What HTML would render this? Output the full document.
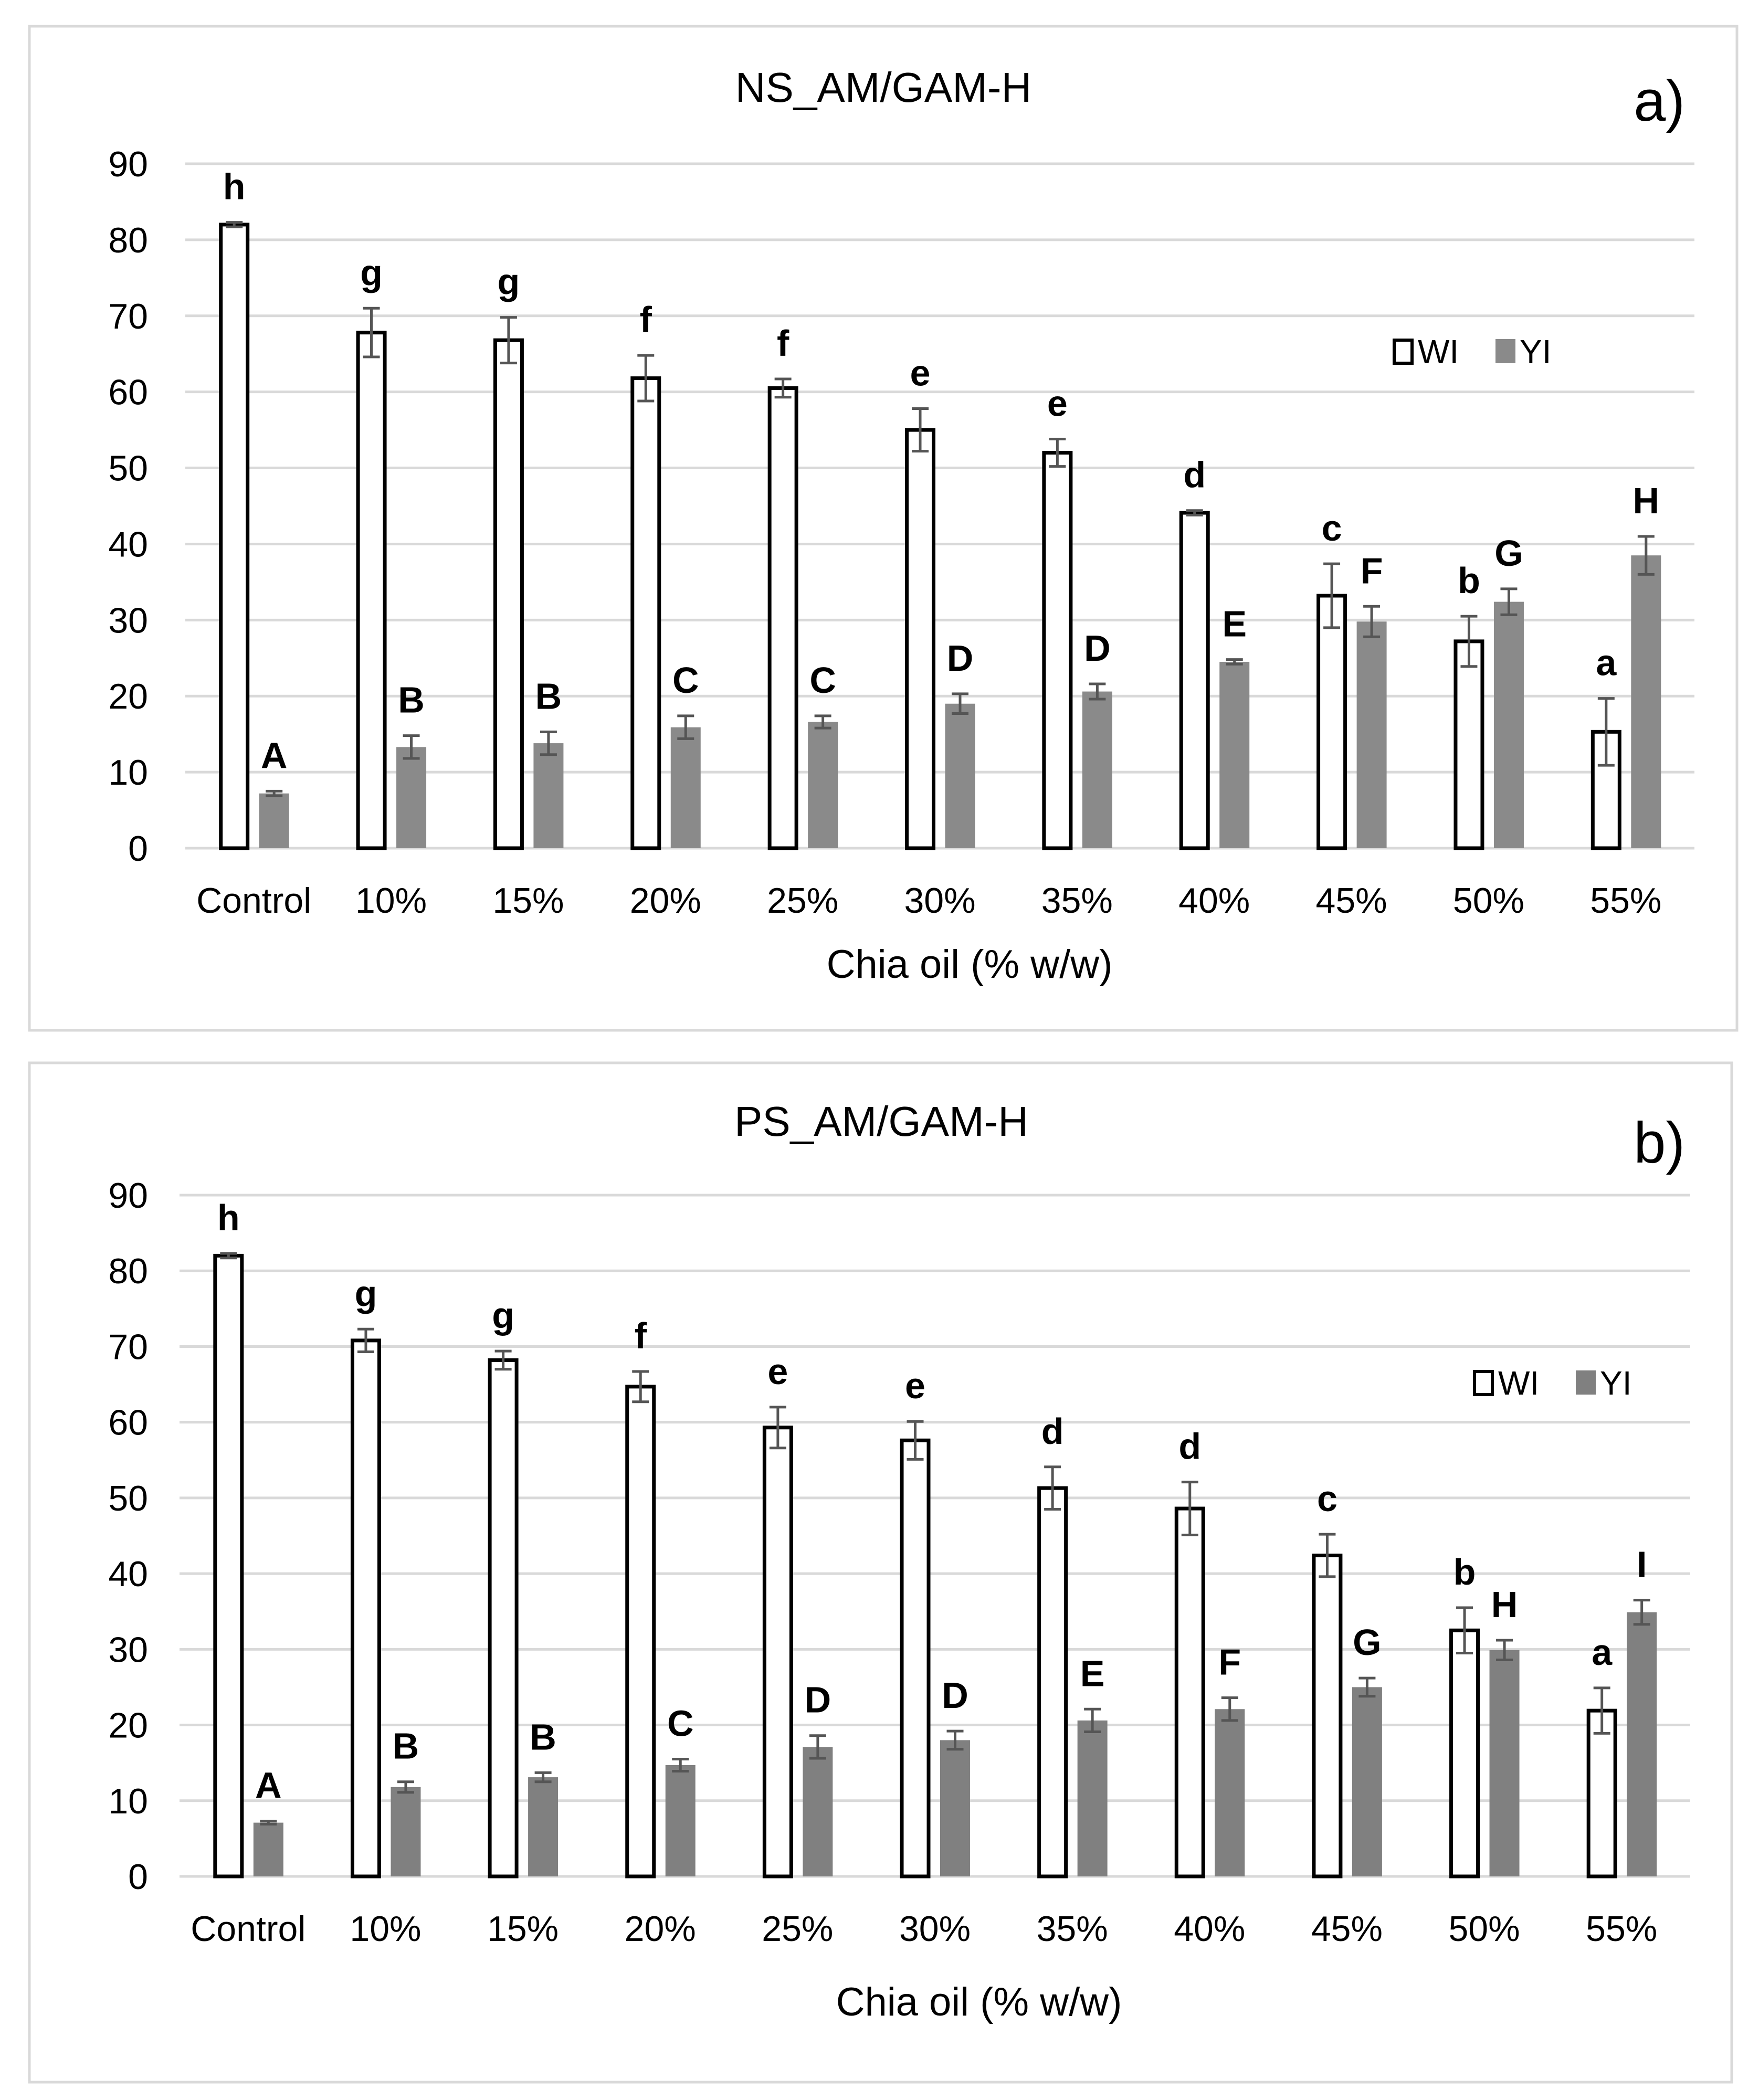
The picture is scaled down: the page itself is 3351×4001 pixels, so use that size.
<!DOCTYPE html>
<html><head><meta charset="utf-8"><style>
html,body{margin:0;padding:0;background:#fff;}
svg{display:block;font-family:"Liberation Sans",Arial,sans-serif;}
</style></head><body>
<svg id="chart" width="3351" height="4001" viewBox="0 0 3351 4001" xmlns="http://www.w3.org/2000/svg">
<rect width="3351" height="4001" fill="#fff"/>
</svg>
<script>
const categories=["Control","10%","15%","20%","25%","30%","35%","40%","45%","50%","55%"];
const yTicks=[0,10,20,30,40,50,60,70,80,90];
const aWI=[82,67.8,66.8,61.8,60.5,55,52,44.1,33.2,27.2,15.3];
const aWIerr=[0.3,3.2,3,3,1.2,2.8,1.8,0.3,4.2,3.3,4.4];
const aYI=[7.2,13.3,13.8,15.9,16.6,19,20.6,24.5,29.8,32.4,38.5];
const aYIerr=[0.3,1.5,1.5,1.5,0.8,1.3,1,0.3,2,1.7,2.5];
const aWIlet=["h","g","g","f","f","e","e","d","c","b","a"];
const aYIlet=["A","B","B","C","C","D","D","E","F","G","H"];
const bWI=[82,70.8,68.2,64.7,59.3,57.6,51.3,48.6,42.4,32.5,21.9];
const bWIerr=[0.3,1.5,1.2,2,2.7,2.5,2.8,3.5,2.8,3,3];
const bYI=[7.1,11.8,13.1,14.7,17.1,18,20.6,22.1,25,29.9,34.9];
const bYIerr=[0.2,0.7,0.6,0.8,1.5,1.2,1.5,1.5,1.2,1.3,1.6];
const bWIlet=["h","g","g","f","e","e","d","d","c","b","a"];
const bYIlet=["A","B","B","C","D","D","E","F","G","H","I"];

const NS="http://www.w3.org/2000/svg";
const svg=document.getElementById('chart');
function mk(tag,attrs,parent,txt){const e=document.createElementNS(NS,tag);for(const k in attrs)e.setAttribute(k,attrs[k]);if(txt!==undefined)e.textContent=txt;(parent||svg).appendChild(e);return e;}

function panel(cfg){
  const g=mk('g',{});
  
  
  const fr=mk('rect',{x:cfg.bx,y:cfg.by,width:cfg.bw,height:cfg.bh,fill:'#fff',stroke:'#d9d9d9','stroke-width':5},g);
  
  
  const y=v=>cfg.y0-(v/90)*(cfg.y0-cfg.y90);
  const step=(cfg.right-cfg.left)/categories.length;
  const xc=i=>cfg.left+step*(i+0.5);
  yTicks.forEach(t=>{
    const l=mk('line',{x1:cfg.left,x2:cfg.right,y1:y(t),y2:y(t),stroke:'#d9d9d9','stroke-width':5},g);
    
    
    const tl=mk('text',{x:282,y:y(t)+24,'text-anchor':'end','font-size':68,fill:'#000'},g,String(t));
    
    
  });
  categories.forEach((c,i)=>{
    const cx=xc(i);
    const wx=cx-66, yx=cx+10, bw=57;
    const wr=mk('rect',{x:wx+3,y:y(cfg.wi[i]),width:bw-6,height:cfg.y0-y(cfg.wi[i]),fill:'#fff',stroke:'#000','stroke-width':7},g);
    
    
    const yr=mk('rect',{x:yx,y:y(cfg.yi[i]),width:bw,height:cfg.y0-y(cfg.yi[i]),fill:cfg.grey},g);
    
    
    [[wx+bw/2,cfg.wi[i],cfg.wie[i]],[yx+bw/2,cfg.yi[i],cfg.yie[i]]].forEach(([ex,v,e])=>{
      const eg=mk('g',{stroke:'#555','stroke-width':5},g);
      
      
      mk('line',{x1:ex,x2:ex,y1:y(v+e),y2:y(v-e)},eg);
      mk('line',{x1:ex-16,x2:ex+16,y1:y(v+e),y2:y(v+e)},eg);
      mk('line',{x1:ex-16,x2:ex+16,y1:y(v-e),y2:y(v-e)},eg);
    });
    const l1=mk('text',{x:wx+bw/2,y:y(cfg.wi[i]+cfg.wie[i])-44,'text-anchor':'middle','font-size':70,'font-weight':'bold'},g,cfg.wl[i]);
    
    
    const l2=mk('text',{x:yx+bw/2,y:y(cfg.yi[i]+cfg.yie[i])-44,'text-anchor':'middle','font-size':70,'font-weight':'bold'},g,cfg.yl[i]);
    
    
    const xl=mk('text',{x:cx,y:cfg.y0+123,'text-anchor':'middle','font-size':68},g,c);
    
    
  });
  const t=mk('text',{x:cfg.tx,y:cfg.ty,'text-anchor':'middle','font-size':80},g,cfg.title);
  
  
  const p=mk('text',{x:3210,y:cfg.py,'text-anchor':'end','font-size':110},g,cfg.plabel);
  
  
  const at=mk('text',{x:cfg.ax,y:cfg.ay,'text-anchor':'middle','font-size':76},g,'Chia oil (% w/w)');
  
  
  const lg=mk('g',{},g);
  
  
  mk('rect',{x:cfg.lx+3,y:cfg.ly-44,width:34,height:44,fill:'#fff',stroke:'#000','stroke-width':6},lg);
  mk('text',{x:cfg.lx+48,y:cfg.ly,'font-size':64},lg,'WI');
  mk('rect',{x:cfg.lx+196,y:cfg.ly-46,width:38,height:46,fill:cfg.grey},lg);
  mk('text',{x:cfg.lx+242,y:cfg.ly,'font-size':64},lg,'YI');
}
panel({name:'panel-a',bx:56,by:50,bw:3253,bh:1913,left:353,right:3228,y0:1616,y90:312,
  wi:aWI,wie:aWIerr,yi:aYI,yie:aYIerr,wl:aWIlet,yl:aYIlet,grey:'#8a8a8a',
  title:'NS_AM/GAM-H',tx:1683,ty:194,plabel:'a)',py:230,ax:1847,ay:1863,lx:2653,ly:692});
panel({name:'panel-b',bx:56,by:2025,bw:3243,bh:1942,left:342,right:3220,y0:3575,y90:2277,
  wi:bWI,wie:bWIerr,yi:bYI,yie:bYIerr,wl:bWIlet,yl:bYIlet,grey:'#808080',
  title:'PS_AM/GAM-H',tx:1679,ty:2164,plabel:'b)',py:2215,ax:1865,ay:3840,lx:2806,ly:2657});
</script>
</body></html>
